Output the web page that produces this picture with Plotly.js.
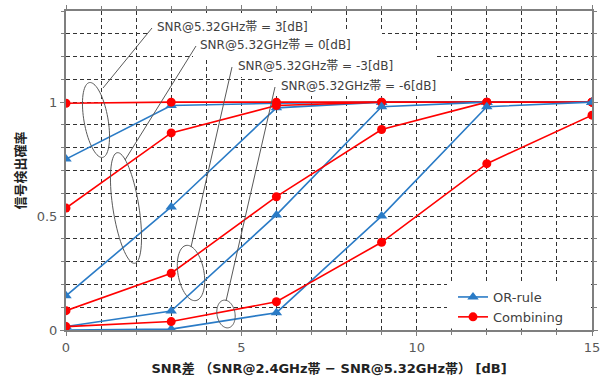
<!DOCTYPE html>
<html>
<head>
<meta charset="utf-8">
<script src="https://cdn.plot.ly/plotly-3.0.1.min.js"></script>
<style>html,body{margin:0;padding:0;background:#fff;}#chart{width:608px;height:378px;}</style>
</head>
<body>
<div id="chart"></div>
<script>
// ---- data ----
const snrDiff = [0, 3, 6, 9, 12, 15];
const orRule_p3  = [0.75, 0.985, 0.995, 1.0, 1.0, 1.0];
const comb_p3    = [0.995, 1.0, 1.0, 1.0, 1.0, 1.0];
const orRule_0   = [0.15, 0.54, 0.975, 1.0, 1.0, 1.0];
const comb_0     = [0.535, 0.865, 0.985, 1.0, 1.0, 1.0];
const orRule_m3  = [0.015, 0.083, 0.505, 0.98, 1.0, 1.0];
const comb_m3    = [0.085, 0.249, 0.585, 0.88, 1.0, 1.0];
const orRule_m6  = [0.0, 0.004, 0.076, 0.5, 0.98, 1.0];
const comb_m6    = [0.015, 0.037, 0.124, 0.385, 0.73, 0.943];
const seriesNames = ["OR-rule", "Combining"];
const snrLabels = ["SNR@5.32GHz帯 = 3[dB]", "SNR@5.32GHz帯 = 0[dB]", "SNR@5.32GHz帯 = -3[dB]", "SNR@5.32GHz帯 = -6[dB]"];
const xTitle = "SNR差 （SNR@2.4GHz帯 − SNR@5.32GHz帯） [dB]";
const yTitle = "信号検出確率";

// ---- styling ----
const BLUE = "#2a7bc6", RED = "#ff0000";
const FONT = "DejaVu Sans, Noto Sans CJK JP, sans-serif";
const groups = [[orRule_p3, comb_p3], [orRule_0, comb_0], [orRule_m3, comb_m3], [orRule_m6, comb_m6]];
const traces = [];
groups.forEach((g, i) => {
  traces.push({x: snrDiff, y: g[0], type: "scatter", mode: "lines+markers", name: seriesNames[0],
    legendgroup: "or", showlegend: i === 0, line: {color: BLUE, width: 1.6},
    marker: {symbol: "triangle-up", size: 10, color: BLUE}});
  traces.push({x: snrDiff, y: g[1], type: "scatter", mode: "lines+markers", name: seriesNames[1],
    legendgroup: "comb", showlegend: i === 0, line: {color: RED, width: 1.6},
    marker: {symbol: "circle", size: 9, color: RED}});
});

// plot-area pixel geometry (for decorative callouts, in paper coords)
const L = 66, T = 11, W = 526, H = 319;
const px = v => (v - L) / W;
const py = v => (T + H - v) / H;

const shapes = [];
const annotations = [];
// white label boxes and legend box (cover grid)
const boxes = [[150, 13, 335, 38], [193, 30, 382, 58], [232, 52, 437, 77], [274, 74, 463, 96], [447, 284, 590, 328.5]];
boxes.forEach(b => shapes.push({type: "rect", xref: "paper", yref: "paper", layer: "above",
  x0: px(b[0]), x1: px(b[2]), y0: py(b[3]), y1: py(b[1]), fillcolor: "#ffffff", line: {width: 0}}));
// label texts
const labelPos = [[155, 27], [198, 45], [236, 66], [279, 86]];
snrLabels.forEach((t, i) => annotations.push({text: t, xref: "paper", yref: "paper",
  x: px(labelPos[i][0]), y: py(labelPos[i][1]), xanchor: "left", yanchor: "middle", showarrow: false,
  font: {family: FONT, size: 12, color: "#404040"}}));
// leader lines
const leaders = [[152, 28, 103, 88], [196, 46, 125, 160], [232, 67, 191, 247], [275, 87, 226, 301]];
leaders.forEach(l => shapes.push({type: "line", xref: "paper", yref: "paper", layer: "above",
  x0: px(l[0]), y0: py(l[1]), x1: px(l[2]), y1: py(l[3]), line: {color: "#595959", width: 1}}));
// ellipses
const ells = [[96, 120, 12, 38, 10], [126, 208, 13, 56, 9], [191, 273, 13, 28, 10], [226, 314, 9, 14, 10]];
ells.forEach(e => {
  const [cx, cy, a, b, deg] = e, th = deg * Math.PI / 180;
  let d = "";
  for (let k = 0; k <= 72; k++) {
    const t = k / 72 * 2 * Math.PI, ux = a * Math.cos(t), uy = b * Math.sin(t);
    const X = cx + ux * Math.cos(th) + uy * Math.sin(th);
    const Y = cy - ux * Math.sin(th) + uy * Math.cos(th);
    d += (k === 0 ? "M" : "L") + px(X).toFixed(5) + "," + py(Y).toFixed(5) + " ";
  }
  shapes.push({type: "path", xref: "paper", yref: "paper", layer: "above", path: d + "Z",
    line: {color: "#595959", width: 1}});
});

const GRID = "#333333", DASH = "4px,3px", AXC = "#7f7f7f";
const layout = {
  width: 608, height: 378,
  margin: {l: L, r: 608 - L - W, t: T, b: 378 - T - H},
  paper_bgcolor: "#ffffff", plot_bgcolor: "#ffffff",
  font: {family: FONT, size: 13, color: "#595959"},
  showlegend: true,
  legend: {x: px(453), y: py(282), xanchor: "left", yanchor: "top", bgcolor: "rgba(0,0,0,0)",
    font: {family: FONT, size: 13, color: "#404040"}, itemwidth: 30, tracegroupgap: 0},
  xaxis: {range: [0, 15], tick0: 0, dtick: 5, showgrid: true, gridcolor: GRID, griddash: DASH, gridwidth: 1,
    minor: {dtick: 1, showgrid: true, gridcolor: GRID, griddash: DASH, gridwidth: 1, ticks: "outside", ticklen: 3, tickcolor: AXC},
    zeroline: false, showline: true, linecolor: AXC, linewidth: 2, mirror: "ticks",
    ticks: "outside", ticklen: 4, tickcolor: AXC,
    title: {text: xTitle, font: {family: FONT, size: 13, color: "#222", weight: "bold"}, standoff: 10}},
  yaxis: {range: [0, 1.4], tick0: 0, dtick: 0.5, showgrid: true, gridcolor: GRID, griddash: DASH, gridwidth: 1,
    minor: {dtick: 0.1, showgrid: true, gridcolor: GRID, griddash: DASH, gridwidth: 1, ticks: "outside", ticklen: 3, tickcolor: AXC},
    zeroline: false, showline: true, linecolor: AXC, linewidth: 2, mirror: "ticks",
    ticks: "outside", ticklen: 4, tickcolor: AXC,
    title: {text: yTitle, font: {family: FONT, size: 13, color: "#222", weight: "bold"}, standoff: 8}},
  shapes: shapes,
  annotations: annotations
};
Plotly.newPlot("chart", traces, layout, {staticPlot: true, displayModeBar: false});
</script>
</body>
</html>
